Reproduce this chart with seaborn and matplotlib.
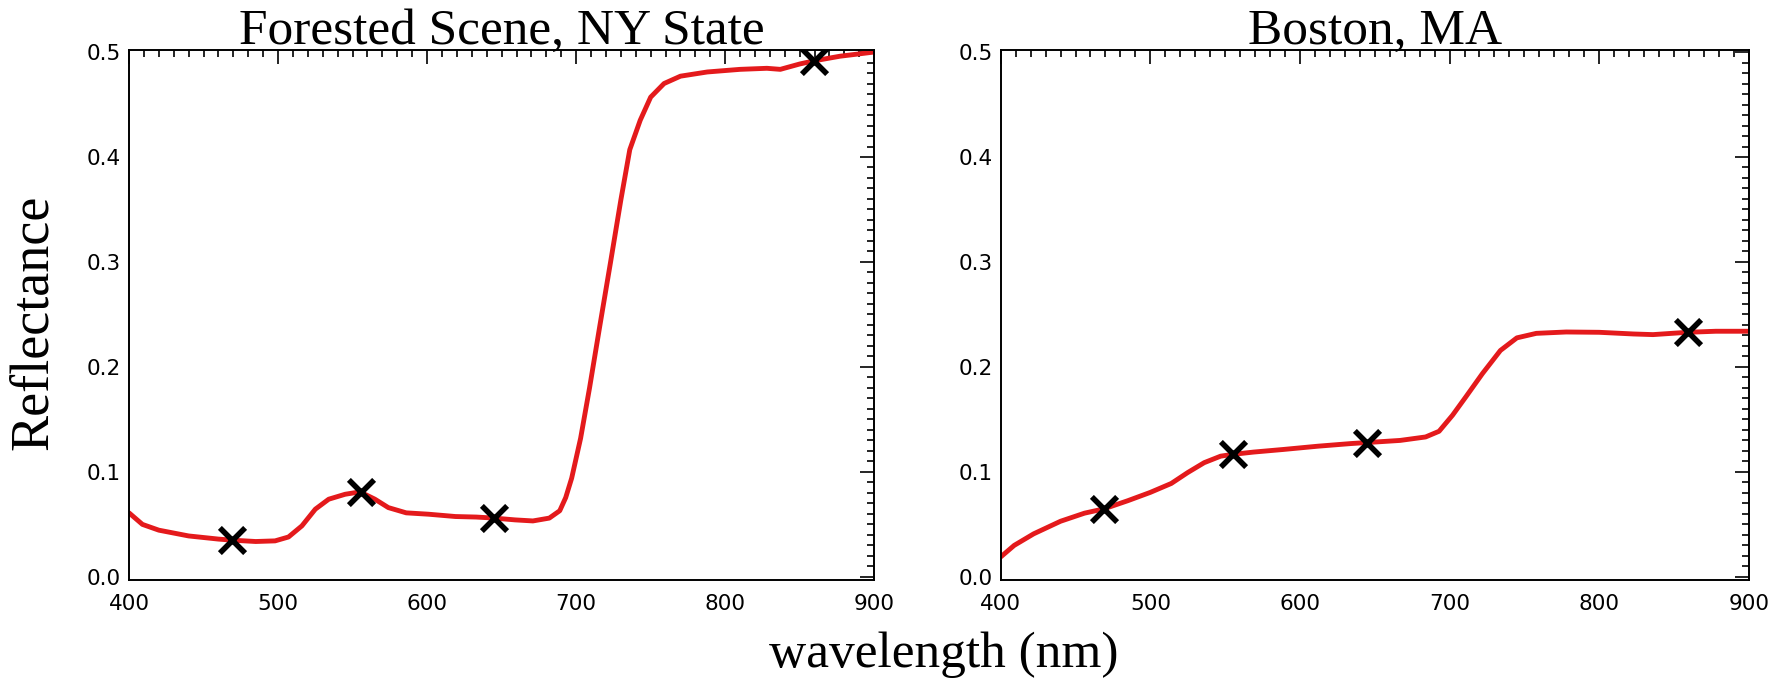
import matplotlib
matplotlib.use("Agg")
import matplotlib.pyplot as plt
from matplotlib.ticker import MultipleLocator
import seaborn as sns

# spectra (wavelength nm, reflectance)
forest_wl = [400, 409, 420, 440, 460, 469, 485, 498, 507, 516, 525, 534, 545, 555,
             565, 574, 586, 601, 619, 633, 645, 659, 671, 682, 689, 693, 697, 703,
             709, 716, 723, 730, 736, 743, 750, 759, 770, 788, 810, 828, 837, 850,
             860, 877, 900]
forest_refl = [0.061, 0.050, 0.0445, 0.039, 0.036, 0.035, 0.0337, 0.0343, 0.038,
               0.0486, 0.0645, 0.074, 0.0787, 0.081, 0.074, 0.066, 0.061, 0.0597,
               0.0575, 0.057, 0.056, 0.0543, 0.0533, 0.056, 0.063, 0.0755, 0.094,
               0.132, 0.180, 0.240, 0.299, 0.359, 0.407, 0.435, 0.457, 0.470, 0.477,
               0.481, 0.4835, 0.4845, 0.4835, 0.4886, 0.4917, 0.496, 0.500]

boston_wl = [400, 409, 422, 440, 456, 469, 485, 500, 514, 525, 536, 547, 555, 569,
             589, 612, 634, 645, 667, 684, 693, 702, 711, 722, 734, 745, 758, 778,
             800, 823, 836, 859, 878, 900]
boston_refl = [0.019, 0.030, 0.041, 0.053, 0.0607, 0.0648, 0.0726, 0.0805, 0.089,
               0.0994, 0.1088, 0.115, 0.1167, 0.1189, 0.1214, 0.1245, 0.127, 0.128,
               0.130, 0.1333, 0.1387, 0.154, 0.1717, 0.1937, 0.2157, 0.2277, 0.232,
               0.2333, 0.233, 0.2314, 0.2308, 0.233, 0.234, 0.234]

# MODIS band centres marked with crosses
band_wl = [469, 555.5, 645, 859.5]
forest_band = [0.035, 0.081, 0.056, 0.4917]
boston_band = [0.0648, 0.1167, 0.128, 0.233]

titles = ["Forested Scene, NY State", "Boston, MA"]

sns.set_style("white")
plt.rcParams["font.family"] = ["DejaVu Sans"]
plt.rcParams["text.color"] = "black"
serif = ["Liberation Serif", "DejaVu Serif"]

fig = plt.figure(figsize=(17.87, 6.84), dpi=100)
ax1 = fig.add_axes([0.0722, 0.152, 0.417, 0.775])
ax2 = fig.add_axes([0.560, 0.152, 0.4186, 0.775])

panels = [(ax1, forest_wl, forest_refl, forest_band),
          (ax2, boston_wl, boston_refl, boston_band)]

for (ax, wl, refl, band), title in zip(panels, titles):
    sns.lineplot(x=wl, y=refl, ax=ax, color="#e41a1c", linewidth=3.5)
    sns.scatterplot(x=band_wl, y=band, ax=ax, marker="x", color="black",
                    s=330, linewidth=4.0, zorder=5)
    ax.set_xlim(400, 900)
    ax.set_ylim(-0.003, 0.502)
    ax.xaxis.set_major_locator(MultipleLocator(100))
    ax.xaxis.set_minor_locator(MultipleLocator(10))
    ax.yaxis.set_major_locator(MultipleLocator(0.1))
    ax.yaxis.set_minor_locator(MultipleLocator(0.01))
    ax.yaxis.set_major_formatter(plt.FormatStrFormatter("%.1f"))
    ax.tick_params(which="both", direction="in", top=True, right=True,
                   labelsize=15.5, colors="black", width=1.2)
    ax.tick_params(which="major", length=10)
    ax.tick_params(which="minor", length=5)
    ax.tick_params(axis="x", which="major", pad=10)
    ax.tick_params(axis="y", which="major", pad=6)
    for sp in ax.spines.values():
        sp.set_linewidth(1.4)
        sp.set_color("black")
    ax.set_title(title, family=serif, fontsize=37, pad=4, color="black")

fig.text(0.528, 0.025, "wavelength (nm)", family=serif, fontsize=37,
         ha="center", va="baseline", color="black")
fig.text(0.019, 0.529, "Reflectance", family=serif, fontsize=39,
         rotation=90, ha="center", va="center", color="black")

fig.savefig("out.png", dpi=100)
